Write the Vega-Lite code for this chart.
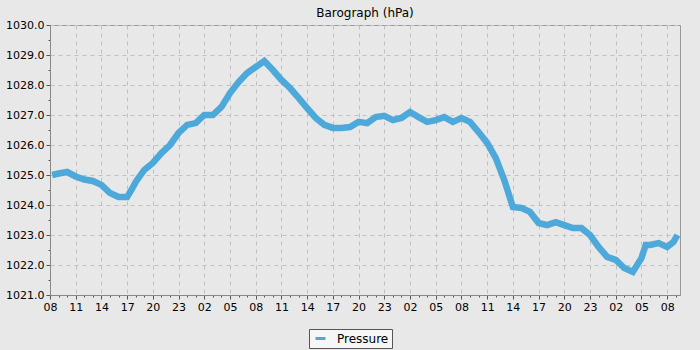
{
  "$schema": "https://vega.github.io/schema/vega-lite/v6.json",
  "autosize": {"type": "none"},
  "width": 630,
  "height": 270,
  "padding": {"left": 50, "top": 25, "right": 20, "bottom": 55},
  "background": "#e8e8e8",
  "title": {"text": "Barograph (hPa)", "font": "DejaVu Sans", "fontSize": 12, "fontWeight": "normal", "color": "#000000", "offset": -1},
  "config": {
    "view": {"stroke": "#999999", "strokeWidth": 1}
  },
  "data": {"values": [
    {"h": 0.25, "p": 1025.0},
    {"h": 1, "p": 1025.05},
    {"h": 2, "p": 1025.1},
    {"h": 3, "p": 1024.95},
    {"h": 4, "p": 1024.85},
    {"h": 5, "p": 1024.8},
    {"h": 6, "p": 1024.67},
    {"h": 7, "p": 1024.4},
    {"h": 8, "p": 1024.27},
    {"h": 9, "p": 1024.27},
    {"h": 9.5, "p": 1024.5},
    {"h": 10, "p": 1024.77},
    {"h": 11, "p": 1025.17},
    {"h": 12, "p": 1025.4},
    {"h": 13, "p": 1025.73},
    {"h": 14, "p": 1026.0},
    {"h": 15, "p": 1026.4},
    {"h": 16, "p": 1026.67},
    {"h": 17, "p": 1026.73},
    {"h": 18, "p": 1027.0},
    {"h": 19, "p": 1027.0},
    {"h": 20, "p": 1027.27},
    {"h": 21, "p": 1027.73},
    {"h": 22, "p": 1028.1},
    {"h": 23, "p": 1028.4},
    {"h": 24, "p": 1028.6},
    {"h": 25, "p": 1028.8},
    {"h": 26, "p": 1028.5},
    {"h": 27, "p": 1028.17},
    {"h": 28, "p": 1027.9},
    {"h": 29, "p": 1027.57},
    {"h": 30, "p": 1027.23},
    {"h": 31, "p": 1026.9},
    {"h": 32, "p": 1026.67},
    {"h": 33, "p": 1026.57},
    {"h": 34, "p": 1026.57},
    {"h": 35, "p": 1026.6},
    {"h": 36, "p": 1026.77},
    {"h": 37, "p": 1026.73},
    {"h": 38, "p": 1026.93},
    {"h": 39, "p": 1026.97},
    {"h": 40, "p": 1026.83},
    {"h": 41, "p": 1026.9},
    {"h": 42, "p": 1027.1},
    {"h": 43, "p": 1026.93},
    {"h": 44, "p": 1026.77},
    {"h": 45, "p": 1026.83},
    {"h": 46, "p": 1026.93},
    {"h": 47, "p": 1026.77},
    {"h": 48, "p": 1026.9},
    {"h": 49, "p": 1026.77},
    {"h": 50, "p": 1026.43},
    {"h": 51, "p": 1026.07},
    {"h": 52, "p": 1025.57},
    {"h": 53, "p": 1024.83},
    {"h": 54, "p": 1023.93},
    {"h": 55, "p": 1023.9},
    {"h": 56, "p": 1023.77},
    {"h": 57, "p": 1023.4},
    {"h": 58, "p": 1023.33},
    {"h": 59, "p": 1023.43},
    {"h": 60, "p": 1023.33},
    {"h": 61, "p": 1023.23},
    {"h": 62, "p": 1023.23},
    {"h": 63, "p": 1023.0},
    {"h": 64, "p": 1022.6},
    {"h": 65, "p": 1022.27},
    {"h": 66, "p": 1022.17},
    {"h": 67, "p": 1021.9},
    {"h": 68, "p": 1021.77},
    {"h": 69, "p": 1022.23},
    {"h": 69.5, "p": 1022.67},
    {"h": 70, "p": 1022.67},
    {"h": 71, "p": 1022.73},
    {"h": 72, "p": 1022.6},
    {"h": 72.75, "p": 1022.77},
    {"h": 73.2, "p": 1023.0}
  ]},
  "mark": {"type": "line", "strokeWidth": 6.5, "strokeCap": "butt"},
  "encoding": {
    "x": {
      "field": "h", "type": "quantitative",
      "scale": {"domain": [0, 73.5], "nice": false, "zero": false},
      "axis": {
        "title": null,
        "values": [0, 1, 2, 3, 4, 5, 6, 7, 8, 9, 10, 11, 12, 13, 14, 15, 16, 17, 18, 19, 20, 21, 22, 23, 24, 25, 26, 27, 28, 29, 30, 31, 32, 33, 34, 35, 36, 37, 38, 39, 40, 41, 42, 43, 44, 45, 46, 47, 48, 49, 50, 51, 52, 53, 54, 55, 56, 57, 58, 59, 60, 61, 62, 63, 64, 65, 66, 67, 68, 69, 70, 71, 72, 73],
        "labelExpr": "datum.value % 3 === 0 ? format((datum.value + 8) % 24, '02d') : ''",
        "labelOverlap": false,
        "labelFlush": false,
        "labelBound": false,
        "labelFont": "DejaVu Sans",
        "labelFontSize": 11,
        "labelColor": "#000000",
        "labelPadding": 2,
        "domainColor": "#888888",
        "tickColor": "#555555",
        "tickSize": {"condition": {"test": "datum.value % 3 === 0", "value": 4}, "value": 2},
        "grid": true,
        "gridColor": "#c0c0c0",
        "gridDash": [4, 4],
        "gridOpacity": {"condition": {"test": "datum.value % 3 === 0", "value": 1}, "value": 0}
      }
    },
    "y": {
      "field": "p", "type": "quantitative",
      "scale": {"domain": [1021, 1030], "nice": false, "zero": false},
      "axis": {
        "title": null,
        "values": [1021, 1021.5, 1022, 1022.5, 1023, 1023.5, 1024, 1024.5, 1025, 1025.5, 1026, 1026.5, 1027, 1027.5, 1028, 1028.5, 1029, 1029.5, 1030],
        "labelExpr": "datum.value % 1 === 0 ? format(datum.value, '.1f') : ''",
        "labelOverlap": false,
        "labelFlush": false,
        "labelFont": "DejaVu Sans",
        "labelFontSize": 11,
        "labelColor": "#000000",
        "labelPadding": 2,
        "domainColor": "#888888",
        "tickColor": "#555555",
        "tickSize": {"condition": {"test": "datum.value % 1 === 0", "value": 4}, "value": 2},
        "grid": true,
        "gridColor": "#c0c0c0",
        "gridDash": [4, 4],
        "gridOpacity": {"condition": {"test": "datum.value % 1 === 0", "value": 1}, "value": 0}
      }
    },
    "color": {
      "datum": "Pressure",
      "scale": {"range": ["#4ca9d9"]},
      "legend": {
        "title": null,
        "orient": "none",
        "legendX": 259,
        "legendY": 304,
        "symbolType": "stroke",
        "symbolStrokeWidth": 3,
        "symbolSize": 100,
        "symbolOffset": 2,
        "labelOffset": 10,
        "labelExpr": "datum.label + '\u00a0\u00a0'",
        "labelFont": "DejaVu Sans",
        "labelFontSize": 12,
        "labelColor": "#000000",
        "padding": 3,
        "strokeColor": "#555555",
        "fillColor": "#f6f6f6"
      }
    }
  }
}
